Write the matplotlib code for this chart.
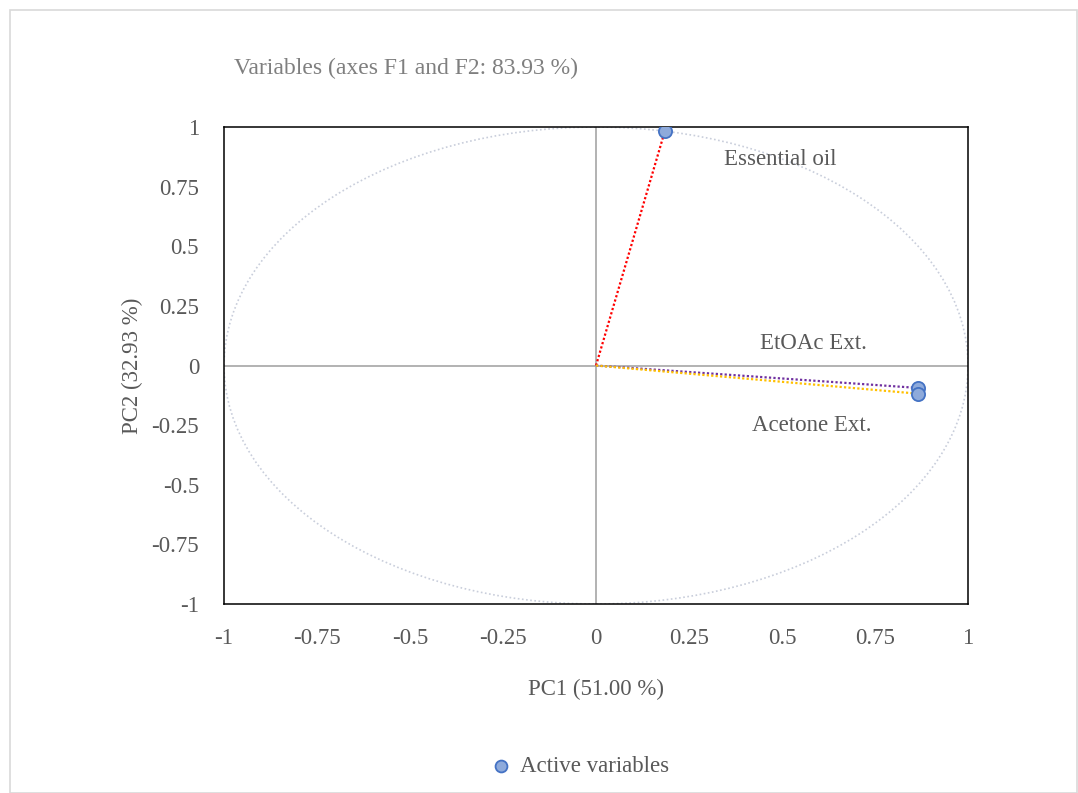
import numpy as np
import matplotlib.pyplot as plt
from matplotlib.patches import Rectangle, Ellipse

plt.rcParams['font.family'] = ['Liberation Serif', 'DejaVu Serif']

# PCA loadings of the active variables
variables = ["Essential oil", "EtOAc Ext.", "Acetone Ext."]
pc1 = [0.185, 0.866, 0.865]
pc2 = [0.983, -0.094, -0.118]
line_colors = ["#ff0000", "#7030a0", "#ffc000"]
ticks = [-1, -0.75, -0.5, -0.25, 0, 0.25, 0.5, 0.75, 1]
tick_labels = ["-1", "-0.75", "-0.5", "-0.25", "0", "0.25", "0.5", "0.75", "1"]

text_col = "#595959"
fs = 16.5

fig = plt.figure(figsize=(10.78, 7.93), dpi=100)
fig.patches.append(Rectangle((0.009, 0.0), 0.99, 0.987, transform=fig.transFigure,
                             fill=False, edgecolor="#d9d9d9", lw=1.2))

ax = fig.add_axes([0.2078, 0.2383, 0.6902, 0.6015])
ax.set_xlim(-1, 1)
ax.set_ylim(-1, 1)

# correlation circle
ax.add_patch(Ellipse((0, 0), 2, 2, fill=False, edgecolor="#c9cedb", lw=1.2,
                     linestyle=(0, (1, 1.5)), zorder=1))
ax.axhline(0, color="#a6a6a6", lw=1.2, zorder=1)
ax.axvline(0, color="#a6a6a6", lw=1.2, zorder=1)

for x, y, c in zip(pc1, pc2, line_colors):
    ax.plot([0, x], [0, y], color=c, lw=1.6, linestyle=(0, (1, 1)), zorder=2)

ax.scatter(pc1, pc2, s=90, color="#8eaadb", edgecolor="#4472c4", linewidth=1.3,
           zorder=3, label="Active variables")

ax.text(0.345, 0.84, variables[0], fontsize=fs, color=text_col)
ax.text(0.44, 0.07, variables[1], fontsize=fs, color=text_col)
ax.text(0.42, -0.275, variables[2], fontsize=fs, color=text_col)

ax.set_xticks(ticks)
ax.set_xticklabels(tick_labels)
ax.set_yticks(ticks)
ax.set_yticklabels(tick_labels)
ax.tick_params(length=0, labelsize=fs, labelcolor=text_col)
ax.tick_params(axis="x", pad=17)
ax.tick_params(axis="y", pad=18)
for s in ax.spines.values():
    s.set_color("#000000")
    s.set_linewidth(1.1)

ax.set_xlabel("PC1 (51.00 %)", fontsize=fs, color=text_col, labelpad=22)
ax.set_ylabel("PC2 (32.93 %)", fontsize=fs, color=text_col, labelpad=6)

fig.text(0.217, 0.914, "Variables (axes F1 and F2: 83.93 %)", fontsize=17,
         color="#7f7f7f", va="center")

fig.legend(loc="center", bbox_to_anchor=(0.532, 0.034), frameon=False,
           fontsize=fs, labelcolor=text_col, handletextpad=-0.2, markerscale=0.9)

fig.savefig("out.png", dpi=100)
